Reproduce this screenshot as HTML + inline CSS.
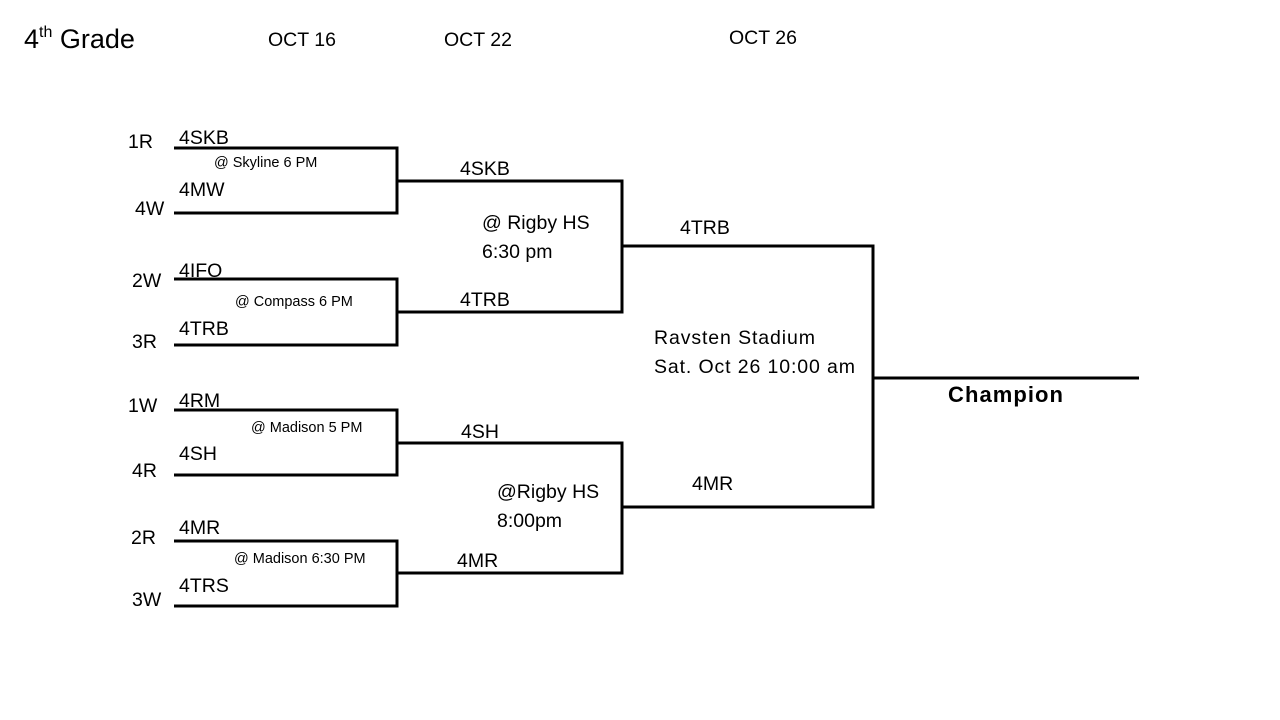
<!DOCTYPE html>
<html><head><meta charset="utf-8"><style>
body{margin:0;background:#fff}
svg{display:block}
text{font-family:"Liberation Sans",sans-serif;fill:#000}
.b{font-size:19.5px}
.s{font-size:14.5px}
</style></head><body>
<svg width="1280" height="720" viewBox="0 0 1280 720">
<g stroke="#000" stroke-width="3" fill="none">
<polyline points="174,148 397,148 397,213 174,213"/>
<polyline points="174,279 397,279 397,345 174,345"/>
<polyline points="174,410 397,410 397,475 174,475"/>
<polyline points="174,541 397,541 397,606 174,606"/>
<polyline points="397,181 622,181 622,312 397,312"/>
<polyline points="397,443 622,443 622,573 397,573"/>
<polyline points="622,246 873,246 873,507 622,507"/>
<line x1="873" y1="378" x2="1139" y2="378"/>
</g>
<text x="24" y="48" style="font-size:27px">4<tspan dy="-11" style="font-size:16px">th</tspan><tspan dy="11"> Grade</tspan></text>
<text class="b" x="268" y="46">OCT 16</text>
<text class="b" x="444" y="46">OCT 22</text>
<text class="b" x="729" y="44">OCT 26</text>
<text class="b" x="128" y="148">1R</text><text class="b" x="179" y="144">4SKB</text>
<text class="s" x="214" y="167">@ Skyline 6 PM</text>
<text class="b" x="179" y="196">4MW</text><text class="b" x="135" y="215">4W</text>
<text class="b" x="132" y="287">2W</text><text class="b" x="179" y="277">4IFO</text>
<text class="s" x="235" y="306">@  Compass 6 PM</text>
<text class="b" x="179" y="335">4TRB</text><text class="b" x="132" y="348">3R</text>
<text class="b" x="128" y="412">1W</text><text class="b" x="179" y="407">4RM</text>
<text class="s" x="251" y="432">@ Madison 5 PM</text>
<text class="b" x="179" y="460">4SH</text><text class="b" x="132" y="477">4R</text>
<text class="b" x="131" y="544">2R</text><text class="b" x="179" y="534">4MR</text>
<text class="s" x="234" y="563">@ Madison 6:30 PM</text>
<text class="b" x="179" y="592">4TRS</text><text class="b" x="132" y="606">3W</text>
<text class="b" x="460" y="175">4SKB</text>
<text class="b" x="482" y="229">@ Rigby HS</text>
<text class="b" x="482" y="258">6:30 pm</text>
<text class="b" x="460" y="306">4TRB</text>
<text class="b" x="461" y="438">4SH</text>
<text class="b" x="497" y="498">@Rigby HS</text>
<text class="b" x="497" y="527">8:00pm</text>
<text class="b" x="457" y="567">4MR</text>
<text class="b" x="680" y="234">4TRB</text>
<text class="b" x="692" y="490">4MR</text>
<text class="b" x="654" y="344" textLength="161">Ravsten Stadium</text>
<text class="b" x="654" y="373" textLength="201">Sat. Oct 26 10:00 am</text>
<text x="948" y="402" style="font-size:22px;font-weight:bold" textLength="115">Champion</text>
</svg>
</body></html>
